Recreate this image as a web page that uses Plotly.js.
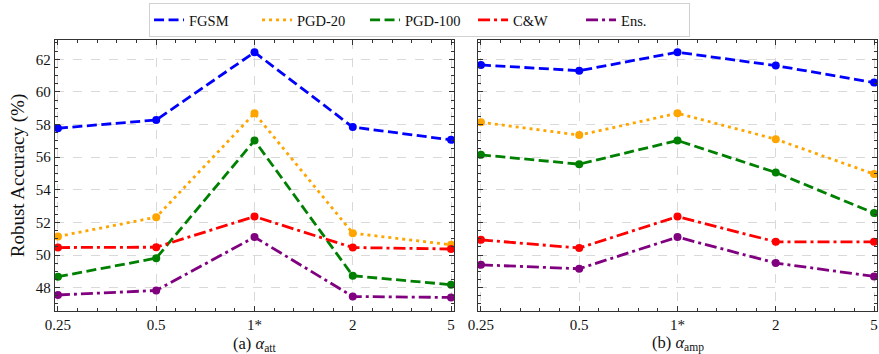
<!DOCTYPE html>
<html>
<head>
<meta charset="utf-8">
<script src="https://cdn.plot.ly/plotly-3.0.1.min.js"></script>
<style>html,body{margin:0;padding:0;background:#fff;}#chart{width:879px;height:354px;}</style>
</head>
<body>
<div id="chart"></div>
<script>
// ---- data ----
const categories = ['0.25', '0.5', '1*', '2', '5'];
const seriesNames = ['FGSM', 'PGD-20', 'PGD-100', 'C&W', 'Ens.'];

// (a) alpha_att
const attFGSM   = [57.77, 58.28, 62.43, 57.84, 57.06];
const attPGD20  = [51.14, 52.32, 58.69, 51.34, 50.63];
const attPGD100 = [48.67, 49.81, 57.02, 48.73, 48.18];
const attCW     = [50.46, 50.48, 52.36, 50.46, 50.37];
const attEns    = [47.55, 47.83, 51.10, 47.46, 47.40];

// (b) alpha_amp
const ampFGSM   = [61.65, 61.30, 62.43, 61.61, 60.57];
const ampPGD20  = [58.14, 57.35, 58.69, 57.10, 54.96];
const ampPGD100 = [56.14, 55.57, 57.02, 55.06, 52.57];
const ampCW     = [50.93, 50.43, 52.36, 50.81, 50.81];
const ampEns    = [49.40, 49.16, 51.10, 49.51, 48.69];

// ---- styles ----
const colors = ['#0000ff', '#ffa500', '#008000', '#ff0000', '#800080'];
const dashes = ['10px,4.5px', '3px,4px', '10px,4.5px', '12px,4px,3px,4px', '12px,4px,3px,4px'];
const FONT = 'Liberation Serif';

const xIdx = categories.map((c, i) => i);
const attSeries = [attFGSM, attPGD20, attPGD100, attCW, attEns];
const ampSeries = [ampFGSM, ampPGD20, ampPGD100, ampCW, ampEns];

const traces = [];
[[attSeries, 'x', 'y'], [ampSeries, 'x2', 'y2']].forEach(([set, xa, ya], p) => {
  set.forEach((vals, i) => {
    traces.push({
      x: xIdx, y: vals, xaxis: xa, yaxis: ya, type: 'scatter', mode: 'lines',
      name: seriesNames[i], legendgroup: seriesNames[i], showlegend: p === 0,
      line: {color: colors[i], width: 2.8, dash: dashes[i]}, hoverinfo: 'skip'
    });
    traces.push({
      x: xIdx, y: vals, xaxis: xa, yaxis: ya, type: 'scatter', mode: 'markers',
      name: seriesNames[i], legendgroup: seriesNames[i], showlegend: false,
      marker: {color: colors[i], size: 8, symbol: 'circle'}, hoverinfo: 'skip'
    });
  });
});

const xBase = {
  tickmode: 'array', tickvals: xIdx, ticktext: categories,
  range: [-0.03, 4.03], showline: true, linecolor: '#333', linewidth: 1.2,
  mirror: 'allticks', ticks: 'inside', ticklen: 5, tickcolor: '#333', tickwidth: 1,
  showgrid: true, gridcolor: '#cfcfcf', griddash: 'dash', gridwidth: 0.8,
  zeroline: false,
  minor: {dtick: 0.2, tick0: 0, ticks: 'inside', ticklen: 3, tickcolor: '#333', showgrid: false},
  tickfont: {family: FONT, size: 15, color: '#111'}
};
const yBase = {
  range: [46.57, 63.18], dtick: 2, tick0: 0, showline: true, linecolor: '#333', linewidth: 1.2,
  mirror: 'allticks', ticks: 'inside', ticklen: 5, tickcolor: '#333', tickwidth: 1,
  showgrid: true, gridcolor: '#cfcfcf', griddash: 'dash', gridwidth: 0.8,
  zeroline: false,
  minor: {dtick: 0.5, tick0: 0, ticks: 'inside', ticklen: 3, tickcolor: '#333', showgrid: false},
  tickfont: {family: FONT, size: 15, color: '#111'}
};

const layout = {
  width: 879, height: 354,
  margin: {l: 55, r: 2, t: 40, b: 43},
  paper_bgcolor: '#fff', plot_bgcolor: '#fff',
  font: {family: FONT, color: '#111'},
  xaxis: Object.assign({}, xBase, {domain: [0, 0.4854], anchor: 'y'}),
  xaxis2: Object.assign({}, xBase, {domain: [0.5146, 1], anchor: 'y2'}),
  yaxis: Object.assign({}, yBase, {anchor: 'x',
    title: {text: 'Robust Accuracy (%)', font: {family: FONT, size: 19, color: '#111'}, standoff: 6}}),
  yaxis2: Object.assign({}, yBase, {anchor: 'x2', matches: 'y', showticklabels: false}),
  showlegend: true,
  legend: {
    orientation: 'h', x: 0.1144, xanchor: 'left', y: 1.1365, yanchor: 'top',
    bgcolor: '#fff', bordercolor: '#d0d0d0', borderwidth: 1,
    font: {family: FONT, size: 14.5, color: '#111'},
    entrywidth: 63, entrywidthmode: 'pixels', itemwidth: 30, tracegroupgap: 0
  },
  annotations: [
    {text: '(a) <i>α</i><sub>att</sub>', xref: 'x', yref: 'paper', x: 2, y: -0.12, yanchor: 'middle',
     showarrow: false, font: {family: FONT, size: 16.5, color: '#111'}},
    {text: '(b) <i>α</i><sub>amp</sub>', xref: 'x2', yref: 'paper', x: 2, y: -0.12, yanchor: 'middle',
     showarrow: false, font: {family: FONT, size: 16.5, color: '#111'}}
  ]
};

Plotly.newPlot('chart', traces, layout, {displayModeBar: false, staticPlot: true});
</script>
</body>
</html>
